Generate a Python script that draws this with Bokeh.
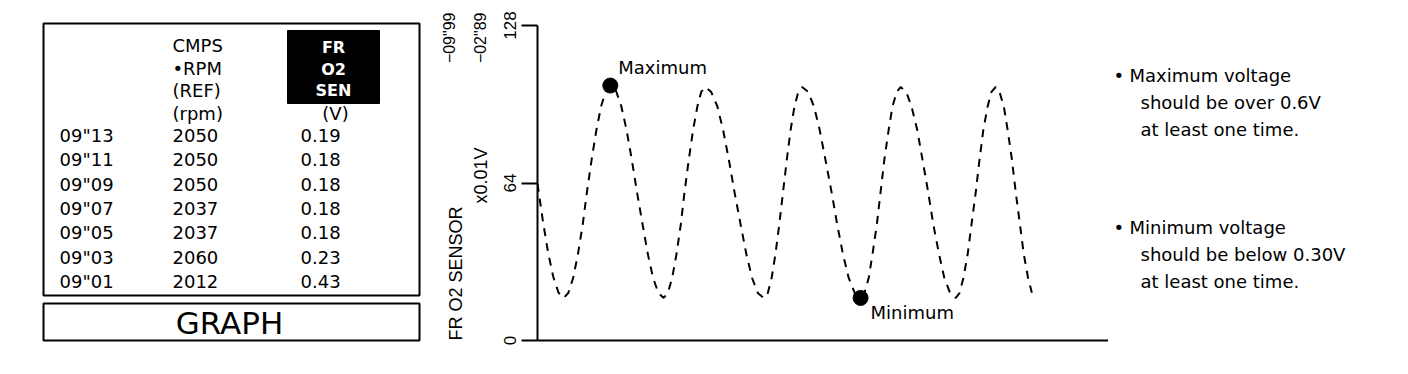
import math
from bokeh.plotting import figure
from bokeh.layouts import row
from bokeh.models import Range1d, LinearAxis, FixedTicker
from bokeh.core.properties import value
from bokeh.embed import file_html
from bokeh.resources import INLINE

# ---------------- data ----------------
sample_times = ['09"13', '09"11', '09"09', '09"07', '09"05', '09"03', '09"01']
cmps_rpm = [2050, 2050, 2050, 2037, 2037, 2060, 2012]
fr_o2_volts = [0.19, 0.18, 0.18, 0.18, 0.18, 0.23, 0.43]
rpm_header = ["CMPS", "•RPM", "(REF)", "(rpm)"]
o2_header = ["FR", "O2", "SEN"]
o2_unit = "(V)"
button_label = "GRAPH"

y_ticks = [0, 64, 128]
y_axis_title = "x0.01V"
sensor_title = "FR O2 SENSOR"
time_marks = ['\u221209"99', '\u221202"89']

# FR O2 sensor trace (time units, x0.01V)
wave_t = [0.0, 1.1, 2.2, 3.3, 4.4, 5.5,
          6.5, 7.5, 8.5, 9.5, 10.4, 11.4, 12.4, 13.4, 14.4, 15.3,
          16.5, 17.6, 18.7, 19.8, 20.9, 22.1, 23.2, 24.3, 25.4, 26.5,
          27.4, 28.3, 29.2, 30.1, 30.9, 31.8, 32.7, 33.6, 34.4, 35.3,
          36.5, 37.8, 39.0, 40.2, 41.4, 42.7, 43.9, 45.1, 46.3, 47.6,
          48.4, 49.2, 50.0, 50.8, 51.6, 52.4, 53.2, 54.0, 54.8, 55.6,
          56.9, 58.1, 59.3, 60.5, 61.8, 63.0, 64.2, 65.4, 66.7, 67.9,
          68.7, 69.6, 70.4, 71.3, 72.1, 72.9, 73.8, 74.6, 75.5, 76.3,
          77.5, 78.6, 79.8, 80.9, 82.1, 83.2, 84.4, 85.5, 86.7, 87.9,
          88.7, 89.5, 90.4, 91.2, 92.1, 92.9, 93.7, 94.6, 95.4, 96.3,
          97.1, 98.0, 98.8, 99.7, 100.5, 101.4, 102.2, 103.1, 103.9]
wave_v = [63.7, 49.0, 36.0, 26.0, 19.5, 17.3,
          19.4, 25.5, 35.1, 47.1, 60.5, 73.8, 85.8, 95.4, 101.5, 103.6,
          101.4, 95.3, 85.7, 73.7, 60.4, 47.0, 35.0, 25.4, 19.3, 17.3,
          19.3, 25.4, 35.0, 47.0, 60.3, 73.6, 85.6, 95.1, 101.0, 103.0,
          101.0, 95.1, 85.6, 73.6, 60.3, 47.0, 35.0, 25.4, 19.3, 17.2,
          19.3, 25.4, 35.0, 47.0, 60.3, 73.6, 85.6, 95.1, 101.0, 103.0,
          101.0, 95.1, 85.6, 73.6, 60.3, 47.0, 35.0, 25.4, 19.2, 17.2,
          19.3, 25.4, 35.0, 47.0, 60.3, 73.6, 85.6, 95.1, 101.0, 103.0,
          101.0, 95.1, 85.6, 73.6, 60.3, 47.0, 35.0, 25.4, 19.3, 17.3,
          19.3, 25.4, 35.0, 47.0, 60.3, 73.6, 85.6, 95.1, 101.0, 103.0,
          101.0, 95.1, 85.6, 73.6, 60.3, 47.0, 35.0, 25.4, 19.4]

max_t, max_v = [15.3], [103.6]
min_t, min_v = [67.9], [17.3]
max_label, min_label = ["Maximum"], ["Minimum"]

notes_max = ["Maximum voltage", "should be over 0.6V", "at least one time."]
notes_min = ["Minimum voltage", "should be below 0.30V", "at least one time."]

SANS = "DejaVu Sans"
ROT = "Liberation Sans"
H = 374

# ---------------- left: data table + graph side captions ----------------
TW = 493
t = figure(width=TW, height=H, x_range=Range1d(0, TW), y_range=Range1d(H, 0),
           output_backend="svg", toolbar_location=None, x_axis_type=None, y_axis_type=None,
           min_border=0, min_border_left=0, min_border_right=0, min_border_top=0,
           min_border_bottom=0, frame_align=False)
t.outline_line_color = None

t.quad(left=[43, 43], right=[419, 419], top=[23, 303], bottom=[295, 340],
       fill_color=None, line_color="black", line_width=2)
t.quad(left=[287], right=[379], top=[30], bottom=[103], fill_color="black", line_color="black")

n_rows = len(sample_times)
row_y = [135 + 24.3 * i for i in range(n_rows)]
common = dict(text_font=value(SANS), text_font_size="18px", text_baseline="middle", text_color="black")
t.text(x=[59] * n_rows, y=row_y, text=sample_times, text_align="left", **common)
t.text(x=[172] * n_rows, y=row_y, text=[str(v) for v in cmps_rpm], text_align="left", **common)
t.text(x=[300] * n_rows, y=row_y, text=[f"{v:.2f}" for v in fr_o2_volts], text_align="left", **common)
t.text(x=[172] * len(rpm_header), y=[45 + 22.5 * i for i in range(len(rpm_header))],
       text=rpm_header, text_align="left", **common)
t.text(x=[333] * len(o2_header), y=[47 + 21.5 * i for i in range(len(o2_header))], text=o2_header,
       text_align="center", text_baseline="middle", text_font=value(SANS), text_font_size="16px",
       text_font_style="bold", text_color="white")
t.text(x=[335], y=[113], text=[o2_unit], text_align="center", **common)
t.text(x=[229], y=[322], text=[button_label], text_align="center", text_baseline="middle",
       text_font=value(SANS), text_font_size="31px", text_color="black")

rot = dict(angle=math.pi / 2, text_baseline="middle", text_font=value(ROT), text_color="black")
t.text(x=[455], y=[340], text=[sensor_title], text_align="left", text_font_size="18px", **rot)
t.text(x=[449, 480], y=[12, 12], text=time_marks, text_align="right", text_font_size="16px", **rot)
t.text(x=[480], y=[175], text=[y_axis_title], text_align="center", text_font_size="18px", **rot)

# ---------------- middle: sensor graph ----------------
GW = 1108 - TW
g = figure(width=GW, height=H, x_range=Range1d(0, 120), y_range=Range1d(0, 128),
           output_backend="svg", toolbar_location=None, x_axis_type=None, y_axis_type=None,
           min_border_left=537 - TW, min_border_right=0, min_border_top=25, min_border_bottom=34,
           frame_align=False)
g.outline_line_color = None

yax = LinearAxis(ticker=FixedTicker(ticks=y_ticks),
                 axis_line_width=2, axis_line_color="black",
                 major_tick_out=16, major_tick_in=0, major_tick_line_width=2,
                 major_tick_line_color="black", minor_tick_line_color=None,
                 major_label_orientation="vertical", major_label_standoff=6,
                 major_label_text_font=ROT, major_label_text_font_size="17px",
                 major_label_text_color="black")
g.add_layout(yax, "left")
xax = LinearAxis(ticker=FixedTicker(ticks=[]), axis_line_width=2, axis_line_color="black",
                 major_tick_line_color=None, minor_tick_line_color=None,
                 major_label_text_font_size="0px")
g.add_layout(xax, "below")

g.line(wave_t, wave_v, line_color="black", line_width=2, line_dash="8 7")
g.scatter(max_t + min_t, max_v + min_v, size=15, color="black")
g.text(x=max_t, y=max_v, text=max_label, x_offset=8, y_offset=-18, text_align="left",
       text_baseline="middle", text_font=value(SANS), text_font_size="18px", text_color="black")
g.text(x=min_t, y=min_v, text=min_label, x_offset=10, y_offset=15, text_align="left",
       text_baseline="middle", text_font=value(SANS), text_font_size="18px", text_color="black")

# ---------------- right: notes ----------------
NW = 1408 - 1108
n = figure(width=NW, height=H, x_range=Range1d(0, NW), y_range=Range1d(H, 0),
           output_backend="svg", toolbar_location=None, x_axis_type=None, y_axis_type=None,
           min_border=0, min_border_left=0, min_border_right=0, min_border_top=0,
           min_border_bottom=0, frame_align=False)
n.outline_line_color = None
for top, lines in zip([75, 227], [notes_max, notes_min]):
    ys = [top + 27 * i for i in range(len(lines))]
    n.text(x=[5], y=[top], text=["•"], text_align="left", **common)
    n.text(x=[21] + [32] * (len(lines) - 1), y=ys, text=lines, text_align="left", **common)

layout = row(t, g, n)
open("out.html", "w").write(file_html(layout, INLINE))
